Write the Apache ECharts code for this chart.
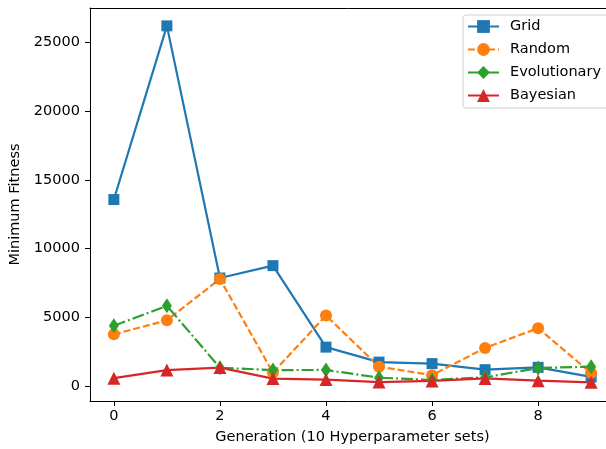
<!DOCTYPE html>
<html>
<head>
<meta charset="utf-8">
<script src="https://cdn.jsdelivr.net/npm/echarts@6/dist/echarts.min.js"></script>
<style>
  html, body { margin: 0; padding: 0; background: #fff; }
  #chart { width: 606px; height: 449px; }
</style>
</head>
<body>
<div id="chart"></div>
<script>
// generations 0..9
const generations = [0, 1, 2, 3, 4, 5, 6, 7, 8, 9]
const gridVals = [13560, 26200, 7850, 8750, 2820, 1730, 1620, 1180, 1350, 650]
const randomVals = [3750, 4770, 7780, 970, 5120, 1400, 780, 2760, 4200, 930]
const evolutionaryVals = [4370, 5830, 1320, 1150, 1160, 600, 430, 620, 1300, 1400]
const bayesianVals = [560, 1150, 1330, 530, 460, 280, 360, 540, 380, 260]
const xTicks = [0, 2, 4, 6, 8]
const yTicks = [0, 5000, 10000, 15000, 20000, 25000]

const font = 'DejaVu Sans'
const fontSize = 14.5
const pairs = (ys) => generations.map((g, i) => [g, ys[i]])

const makeSeries = (name, ys, color, symbol, size, dash) => ({
  name,
  type: 'line',
  data: pairs(ys),
  symbol,
  symbolSize: size,
  itemStyle: { color },
  lineStyle: { color, width: 2.2, type: dash },
  emphasis: { disabled: true },
  animation: false,
})

const chart = echarts.init(document.getElementById('chart'))
chart.setOption({
  backgroundColor: '#fff',
  animation: false,
  grid: {
    left: 90,
    top: 8,
    width: 525,
    height: 393,
    outerBoundsMode: 'none',
    containLabel: false,
  },
  legend: {
    orient: 'vertical',
    left: 463,
    top: 15,
    itemWidth: 31,
    itemHeight: 16,
    itemGap: 8,
    padding: [4, 20, 5, 4],
    backgroundColor: '#fff',
    borderColor: '#d0d0d0',
    borderWidth: 1,
    borderRadius: 3,
    textStyle: { fontFamily: font, fontSize, color: '#000', padding: [0, 0, 0, 6] },
    data: ['Grid', 'Random', 'Evolutionary', 'Bayesian'],
  },
  xAxis: [
    {
      type: 'value',
      min: -0.45,
      max: 9.45,
      name: 'Generation (10 Hyperparameter sets)',
      nameLocation: 'middle',
      nameGap: 29,
      nameTextStyle: { fontFamily: font, fontSize, color: '#000' },
      axisLine: { show: true, onZero: false, lineStyle: { color: '#000', width: 1 } },
      axisTick: { show: true, length: 5, customValues: xTicks, lineStyle: { color: '#000' } },
      axisLabel: { customValues: xTicks, fontFamily: font, fontSize, color: '#000', margin: 8 },
      splitLine: { show: false },
    },
    {
      // top spine only
      type: 'value',
      position: 'top',
      min: -0.45,
      max: 9.45,
      axisLine: { show: true, onZero: false, lineStyle: { color: '#000', width: 1 } },
      axisTick: { show: false },
      axisLabel: { show: false },
      splitLine: { show: false },
    },
  ],
  yAxis: {
    type: 'value',
    min: -1100,
    max: 27500,
    name: 'Minimum Fitness',
    nameLocation: 'middle',
    nameGap: 63,
    nameRotate: 90,
    nameTextStyle: { fontFamily: font, fontSize, color: '#000' },
    axisLine: { show: true, onZero: false, lineStyle: { color: '#000', width: 1 } },
    axisTick: { show: true, length: 5, customValues: yTicks, lineStyle: { color: '#000' } },
    axisLabel: {
      customValues: yTicks,
      formatter: (v) => String(v),
      fontFamily: font,
      fontSize,
      color: '#000',
      margin: 10,
    },
    splitLine: { show: false },
  },
  series: [
    makeSeries('Grid', gridVals, '#1f77b4', 'rect', 11, 'solid'),
    makeSeries('Random', randomVals, '#ff7f0e', 'circle', 12, [7, 3]),
    makeSeries('Evolutionary', evolutionaryVals, '#2ca02c', 'diamond', [10, 15], [12, 3, 2, 3]),
    makeSeries('Bayesian', bayesianVals, '#d62728', 'triangle', 13, 'solid'),
  ],
})
</script>
</body>
</html>
